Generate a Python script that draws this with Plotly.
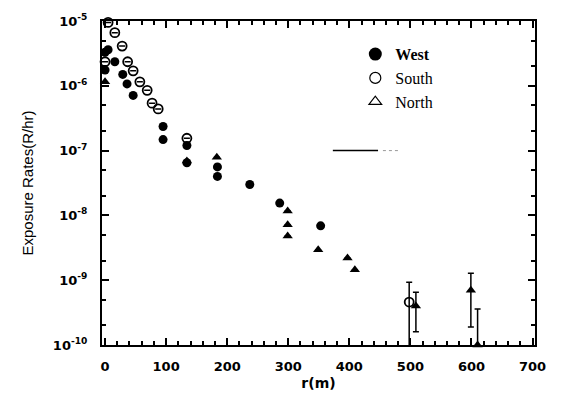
import plotly.graph_objects as go

# ---- data (r in m, exposure rate in R/hr) ----
west_r = [0, 0, 5, 16, 29, 36, 46, 95, 95, 134, 134, 184, 184, 237, 286, 353]
west_y = [3.3e-6, 1.75e-6, 3.6e-6, 2.35e-6, 1.5e-6, 1.07e-6, 7.1e-7,
          2.35e-7, 1.48e-7, 1.2e-7, 6.5e-8, 5.6e-8, 4.0e-8, 3.0e-8, 1.55e-8, 6.9e-9]

south_r = [0, 5, 16, 28, 37, 46, 57, 69, 77, 87, 134, 498]
south_y = [2.35e-6, 9.5e-6, 6.6e-6, 4.1e-6, 2.35e-6, 1.7e-6, 1.15e-6,
           8.5e-7, 5.4e-7, 4.4e-7, 1.55e-7, 4.6e-10]
south_hi = [None]*11 + [9.3e-10]
south_lo = [None]*11 + [1e-11]

north_r = [0, 134, 183, 299, 299, 299, 349, 397, 409, 509, 599, 610]
north_y = [1.15e-6, 6.9e-8, 7.9e-8, 1.17e-8, 7.2e-9, 4.8e-9, 2.95e-9,
           2.2e-9, 1.45e-9, 4.0e-10, 7.0e-10, 1.0e-10]
north_hi = [None]*9 + [6.5e-10, 1.28e-9, 3.6e-10]
north_lo = [None]*9 + [1.6e-10, 1.9e-10, 1e-11]

y_tickvals = [1e-5, 1e-6, 1e-7, 1e-8, 1e-9, 1e-10]
y_ticktext = ["10<sup>-5</sup>", "10<sup>-6</sup>", "10<sup>-7</sup>",
              "10<sup>-8</sup>", "10<sup>-9</sup>", "10<sup>-10</sup>"]
x_tickvals = [0, 100, 200, 300, 400, 500, 600, 700]


def err(vals, hi, lo):
    plus = [(h - v) if h is not None else 0 for v, h in zip(vals, hi)]
    minus = [(v - l) if l is not None else 0 for v, l in zip(vals, lo)]
    return plus, minus


fig = go.Figure()

fig.add_trace(go.Scatter(
    x=west_r, y=west_y, mode="markers", showlegend=False,
    marker=dict(symbol="circle", size=9, color="black"), cliponaxis=False))

sp, sm = err(south_y, south_hi, south_lo)
fig.add_trace(go.Scatter(
    x=south_r, y=south_y, mode="markers", showlegend=False,
    marker=dict(symbol="circle-open", size=9, color="black", line=dict(width=1.8)),
    error_y=dict(type="data", symmetric=False, array=sp, arrayminus=sm,
                 color="black", thickness=1.5, width=3),
    cliponaxis=False))

npl, nmi = err(north_y, north_hi, north_lo)
fig.add_trace(go.Scatter(
    x=north_r, y=north_y, mode="markers", showlegend=False,
    marker=dict(symbol="triangle-up", size=9, color="black"),
    error_y=dict(type="data", symmetric=False, array=npl, arrayminus=nmi,
                 color="black", thickness=1.5, width=3),
    cliponaxis=False))

# legend-only entries
fig.add_trace(go.Scatter(x=[None], y=[None], mode="markers", name="<b>West</b>",
                         marker=dict(symbol="circle", size=13, color="black")))
fig.add_trace(go.Scatter(x=[None], y=[None], mode="markers", name="South",
                         marker=dict(symbol="circle-open", size=11, color="black",
                                     line=dict(width=1.2))))
fig.add_trace(go.Scatter(x=[None], y=[None], mode="markers", name="North",
                         marker=dict(symbol="triangle-up-open", size=11, color="black",
                                     line=dict(width=1.2))))

# leftover line samples seen in the figure
fig.add_shape(type="line", xref="x", yref="y", x0=373, x1=447, y0=1e-7, y1=1e-7,
              line=dict(color="black", width=1.5))
fig.add_shape(type="line", xref="x", yref="y", x0=455, x1=483, y0=1e-7, y1=1e-7,
              line=dict(color="#999999", width=1, dash="dot"))

axis_common = dict(showline=True, linecolor="black", linewidth=2, mirror="ticks",
                   ticks="inside", tickcolor="black", showgrid=False, zeroline=False)

fig.update_xaxes(
    range=[-5, 704], tickvals=x_tickvals, ticklen=7, tickwidth=1.5,
    tickfont=dict(family="DejaVu Sans", size=13, color="black", weight="bold"),
    ticklabelstandoff=8,
    minor=dict(ticks="inside", dtick=20, ticklen=4, tickcolor="black", showgrid=False),
    title=dict(text="r(m)", font=dict(family="DejaVu Sans", size=14, color="black",
                                       weight="bold"), standoff=6),
    **axis_common)

fig.update_yaxes(
    type="log", range=[-10, -5], tickvals=y_tickvals, ticktext=y_ticktext,
    ticklen=7, tickwidth=1.5,
    tickfont=dict(family="DejaVu Sans", size=13, color="black", weight="bold"),
    ticklabelstandoff=10,
    minor=dict(ticks="inside", ticklen=4, tickcolor="black", showgrid=False),
    title=dict(text="Exposure Rates(R/hr)",
               font=dict(family="Liberation Sans Narrow, Liberation Sans", size=15,
                         color="black"), standoff=16),
    **axis_common)

fig.update_layout(
    width=564, height=401,
    margin=dict(l=102, r=29, t=15, b=55),
    paper_bgcolor="white", plot_bgcolor="white",
    legend=dict(x=0.585, y=0.95, xanchor="left", yanchor="top",
                bgcolor="rgba(0,0,0,0)", tracegroupgap=0, itemsizing="trace",
                font=dict(family="Liberation Serif", size=16, color="black")),
)

fig.write_html("out.html")
